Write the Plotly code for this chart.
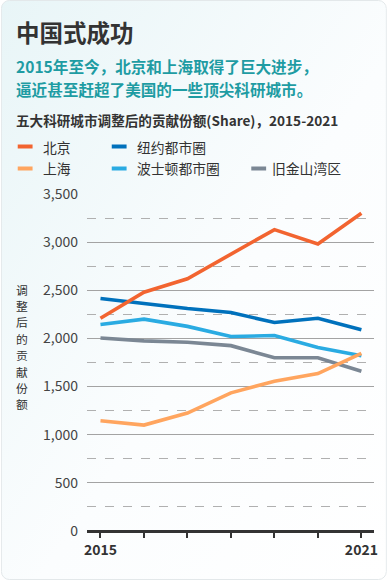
import plotly.graph_objects as go
import base64

years = [2015, 2016, 2017, 2018, 2019, 2020, 2021]
beijing = [2210, 2480, 2620, 2870, 3130, 2980, 3300]
shanghai = [1145, 1100, 1225, 1435, 1555, 1635, 1845]
nyc = [2415, 2365, 2310, 2270, 2165, 2210, 2090]
boston = [2145, 2200, 2125, 2020, 2030, 1905, 1820]
sf = [2005, 1975, 1960, 1925, 1800, 1800, 1660]

series_names = ["北京", "上海", "纽约都市圈", "波士顿都市圈", "旧金山湾区"]
series_values = [beijing, shanghai, nyc, boston, sf]
colors = ["#F26430", "#FFA55F", "#0071BC", "#2AABE2", "#7B8794"]

y_ticks = [0, 500, 1000, 1500, 2000, 2500, 3000, 3500]
x_tick_text = ["<b>2015</b>", "", "", "", "", "", "<b>2021</b>"]
y_title = "调整后的贡献份额"

FONT = "Noto Sans CJK SC"
W, H = 390, 580
L, R, T, B = 87, 13, 194, 49

fig = go.Figure()

# draw order: SF, Boston, NYC, Shanghai, Beijing (Beijing on top)
for idx in [4, 3, 2, 1, 0]:
    fig.add_trace(go.Scatter(
        x=years, y=series_values[idx], mode="lines", name=series_names[idx],
        line=dict(color=colors[idx], width=3.6), showlegend=False,
        hoverinfo="skip"))

# background gradient as svg image
svg = f'''<svg xmlns="http://www.w3.org/2000/svg" width="{W}" height="{H}">
<defs><linearGradient id="g" x1="0" y1="0" x2="1" y2="1">
<stop offset="0" stop-color="#e8f5f7"/><stop offset="0.55" stop-color="#fbfdfe"/><stop offset="1" stop-color="#ffffff"/>
</linearGradient></defs>
<rect x="0.5" y="0.5" width="{W-1}" height="{H-1}" rx="8" ry="8" fill="url(#g)" stroke="#e3e8ea"/>
</svg>'''
src = "data:image/svg+xml;base64," + base64.b64encode(svg.encode()).decode()
pw, ph = W - L - R, H - T - B
fig.add_layout_image(dict(
    source=src, xref="paper", yref="paper",
    x=-L / pw, y=1 + T / ph, sizex=W / pw, sizey=H / ph,
    sizing="stretch", xanchor="left", yanchor="top", layer="below"))

annotations = []
def txt(x, y, s, size, color="#333333", bold=False, xanchor="left", pad=1):
    annotations.append(dict(
        xref="paper", yref="paper", x=(x - L) / pw, y=1 - (y - T) / ph,
        text=f"<b>{s}</b>" if bold else s, showarrow=False,
        xanchor=xanchor, yanchor="middle", borderpad=pad,
        font=dict(family=FONT, size=size, color=color), align="left"))

txt(13, 32, "中国式成功", 23.5, "#333333", bold=True)
txt(13, 66, "2015年至今，北京和上海取得了巨大进步，", 15.6, "#1E9CA3", bold=True)
txt(13, 89.5, "逼近甚至赶超了美国的一些顶尖科研城市。", 15.6, "#1E9CA3", bold=True)
txt(13, 120, "五大科研城市调整后的贡献份额(Share)，2015-2021", 13.6, "#333333", bold=True)

# manual legend
legend_pos = [(17, 146.5), (17, 168.5), (112, 146.5), (112, 168.5), (253, 168.5)]
shapes = []
for (lx, ly), name, col in zip(legend_pos, series_names, colors):
    shapes.append(dict(type="line", xref="paper", yref="paper",
                       x0=(lx - L) / pw, x1=(lx + 15 - L) / pw,
                       y0=1 - (ly - T) / ph, y1=1 - (ly - T) / ph,
                       line=dict(color=col, width=4)))
    txt(lx + 24 if lx != 253 else lx + 19, ly, name, 13.8, "#333333")

# y axis title, one character per line
for i, ch in enumerate(y_title):
    txt(21, 289 + i * 16.4, ch, 11.8, "#333333", xanchor="center", pad=0)

fig.update_layout(
    width=W, height=H,
    margin=dict(l=L, r=R, t=T, b=B, pad=0),
    paper_bgcolor="#ffffff", plot_bgcolor="rgba(0,0,0,0)",
    font=dict(family=FONT, color="#333333"),
    annotations=annotations, shapes=shapes,
    xaxis=dict(
        range=[2014.69, 2021.29], tickvals=years, ticktext=x_tick_text,
        showgrid=False, zeroline=False, showline=False,
        ticks="outside", ticklen=6, tickwidth=1.5, tickcolor="#333333",
        tickfont=dict(family=FONT, size=14, color="#333333"),
        fixedrange=True),
    yaxis=dict(
        range=[0, 3500], tickvals=y_ticks, tickformat=",",
        showgrid=True, gridcolor="#a3a3a3", gridwidth=1,
        zeroline=True, zerolinecolor="#333333", zerolinewidth=2.5,
        showline=False, ticks="", ticklabelstandoff=8,
        tickfont=dict(family=FONT, size=14, color="#444444"),
        minor=dict(dtick=250, tick0=0, showgrid=True, gridcolor="#b0b0b0",
                   griddash="dash", gridwidth=1),
        fixedrange=True),
)

fig.write_html("out.html", config={"displayModeBar": False},
               post_script="document.body.style.margin='0';document.body.style.padding='0';")
